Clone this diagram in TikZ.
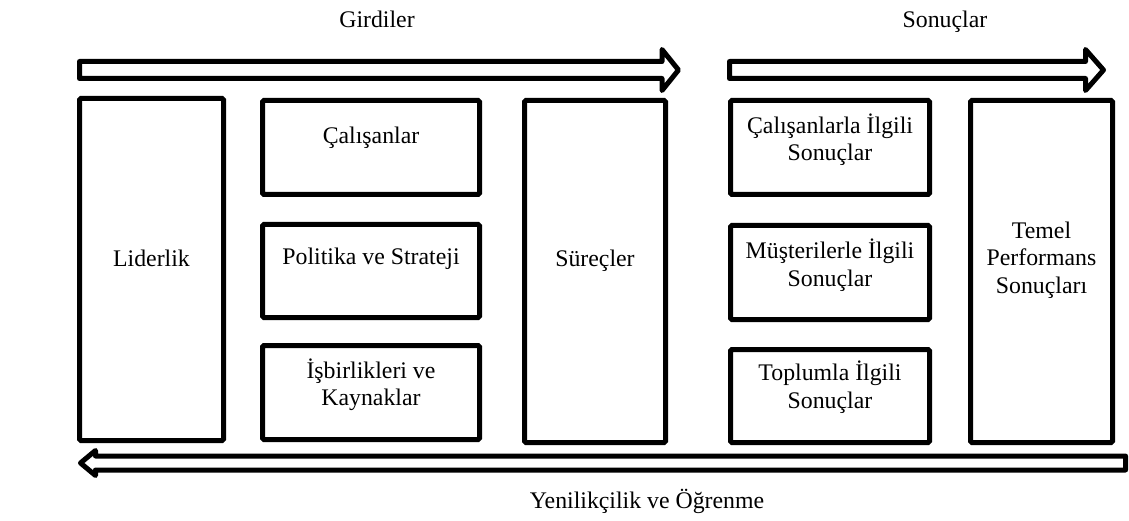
\documentclass[tikz,border=0pt]{standalone}
\usepackage{fontspec}
\setmainfont{Liberation Serif}
\begin{document}
\begin{tikzpicture}[x=1pt,y=-1pt,
  box/.style={draw, line width=5pt, rounded corners=1.5pt, inner sep=0pt},
  lbl/.style={font=\fontsize{23.8}{27.5}\selectfont, align=center, inner sep=0pt},
  barrow/.style={draw, line width=5pt, line join=round}]
\useasboundingbox (0,0) rectangle (1129,521);

% boxes
\node[box, minimum width=144pt, minimum height=342pt] (lid) at (151.5,269.5) {};
\node[box, minimum width=217pt, minimum height=94pt] (cal) at (371,147.5) {};
\node[box, minimum width=217pt, minimum height=93pt] (pol) at (371,271) {};
\node[box, minimum width=217pt, minimum height=94pt] (isb) at (371,392.5) {};
\node[box, minimum width=141pt, minimum height=342pt] (sur) at (595,271.5) {};
\node[box, minimum width=199pt, minimum height=94pt] (csn) at (830,147.5) {};
\node[box, minimum width=199pt, minimum height=94pt] (msn) at (830,272.5) {};
\node[box, minimum width=199pt, minimum height=93pt] (tsn) at (830,396) {};
\node[box, minimum width=142pt, minimum height=342pt] (tem) at (1041.5,271.5) {};

% texts
\node[lbl] (tlid) at ([yshift=11.5pt]lid.center) {Liderlik};
\node[lbl] (tcal) at ([yshift=10pt]cal.center) {Çalışanlar};
\node[lbl] (tpol) at ([yshift=12pt]pol.center) {Politika ve Strateji};
\node[lbl] (tisb) at ([yshift=8pt]isb.center) {İşbirlikleri ve\\Kaynaklar};
\node[lbl] (tsur) at ([yshift=11pt]sur.center) {Süreçler};
\node[lbl] (tcsn) at ([yshift=8pt]csn.center) {Çalışanlarla İlgili\\Sonuçlar};
\node[lbl] (tmsn) at ([yshift=7.5pt]msn.center) {Müşterilerle İlgili\\Sonuçlar};
\node[lbl] (ttsn) at ([yshift=9pt]tsn.center) {Toplumla İlgili\\Sonuçlar};
\node[lbl] (ttem) at ([yshift=11.5pt]tem.center) {Temel\\Performans\\Sonuçları};

\node[lbl, anchor=base] (gir) at (377,28) {Girdiler};
\node[lbl, anchor=base] (son) at (945,28) {Sonuçlar};
\node[lbl, anchor=base] (yen) at (647,508) {Yenilikçilik ve Öğrenme};

% block arrows
\draw[barrow] (79.5,61.5) -- (662,61.5) -- (662,49.5) -- (678.5,70) -- (662,90.5) -- (662,78.5) -- (79.5,78.5) -- cycle;
\draw[barrow] (729.5,61.5) -- (1085.5,61.5) -- (1085.5,49.5) -- (1103.5,70) -- (1085.5,90.5) -- (1085.5,78.5) -- (729.5,78.5) -- cycle;
\draw[barrow] (1125.5,456) -- (95.5,456) -- (95.5,450.5) -- (80.5,463) -- (95.5,475.5) -- (95.5,470) -- (1125.5,470) -- cycle;
\end{tikzpicture}
\end{document}
